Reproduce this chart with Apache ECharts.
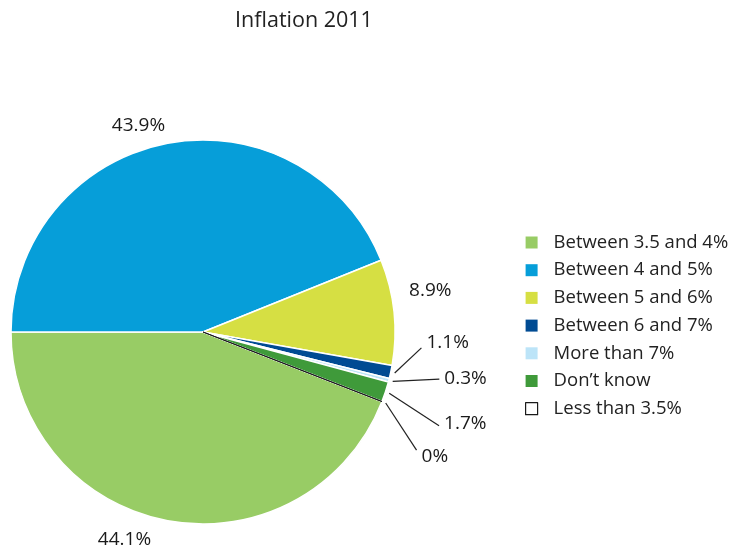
<!DOCTYPE html>
<html>
<head>
<meta charset="utf-8">
<script src="https://cdn.jsdelivr.net/npm/echarts@6/dist/echarts.min.js"></script>
<style>
  html, body { margin: 0; padding: 0; background: #fff; }
  #chart { width: 730px; height: 550px; }
</style>
</head>
<body>
<div id="chart"></div>
<script>
// Survey answers: expected inflation for 2011 (share of respondents, %)
const categories = [
  'Between 3.5 and 4%',
  'Between 4 and 5%',
  'Between 5 and 6%',
  'Between 6 and 7%',
  'More than 7%',
  'Don\u2019t know',
  'Less than 3.5%'
];
const shares = [44.1, 43.9, 8.9, 1.1, 0.3, 1.7, 0];
const colors = ['#98cc65', '#069ed9', '#d6df43', '#004b93', '#bce4f8', '#3f9a3a', '#ffffff'];

// Label placement around the pie: [angle shift from the slice middle in degrees
// (counter-clockwise positive), distance from the centre, extra vertical nudge]
const labelPlace = [
  [-10.1, 222, 0],
  [6.4, 216, 0],
  [4.3, 231, 0],
  [7.9, 219, -5],
  [3.3, 241, -1],
  [-3.5, 254, -2],
  [-7.7, 244, 7]
];

const FONT = '"Open Sans", "Noto Sans", sans-serif';
const CX = 203, CY = 332, R = 192;
const RAD = Math.PI / 180;
const total = shares.reduce((a, b) => a + b, 0);
// first slice ends exactly at 9 o'clock, the rest follow clockwise
const startAngle = 180 + 360 * shares[0] / total;

// middle angle of every slice, same convention as the pie (ccw from 3 o'clock)
const mids = [];
let acc = startAngle;
shares.forEach(v => {
  const span = 360 * v / total;
  mids.push(acc - span / 2);
  acc -= span;
});
function polar(deg, r) {
  return [CX + r * Math.cos(deg * RAD), CY - r * Math.sin(deg * RAD)];
}

const data = categories.map((name, i) => {
  const item = {
    name: name,
    value: shares[i],
    itemStyle: { color: colors[i] },
    labelLine: { show: shares[i] < 2 }
  };
  if (shares[i] === 0) {
    item.itemStyle = { color: '#ffffff', borderColor: '#1a1a1a', borderWidth: 1 };
  }
  return item;
});

const legendData = categories.map((name, i) => shares[i] === 0
  ? { name: name, itemStyle: { color: '#ffffff', borderColor: '#1a1a1a', borderWidth: 1.2 } }
  : { name: name, itemStyle: { borderWidth: 0 } });

const chart = echarts.init(document.getElementById('chart'), null, { renderer: 'canvas' });
chart.setOption({
  backgroundColor: '#ffffff',
  animation: false,
  title: {
    text: 'Inflation 2011',
    left: 299,
    textAlign: 'center',
    top: 5,
    textStyle: { fontFamily: FONT, fontSize: 21.5, fontWeight: 'normal', color: '#222' }
  },
  legend: {
    orient: 'vertical',
    left: 525,
    top: 233,
    padding: 0,
    icon: 'rect',
    itemWidth: 12,
    itemHeight: 12,
    itemGap: 8.7,
    data: legendData,
    textStyle: { fontFamily: FONT, fontSize: 18.5, color: '#222', lineHeight: 16, padding: [0, 0, 0, 11] }
  },
  series: [{
    type: 'pie',
    center: [CX, CY],
    radius: R,
    startAngle: startAngle,
    clockwise: true,
    avoidLabelOverlap: false,
    minShowLabelAngle: 0,
    itemStyle: { borderColor: '#ffffff', borderWidth: 1.5 },
    label: {
      show: true,
      position: 'outside',
      formatter: '{c}%',
      fontFamily: FONT,
      fontSize: 19,
      color: '#1a1a1a'
    },
    labelLine: { length: 20, length2: 0, lineStyle: { color: '#222', width: 1.2 } },
    labelLayout: function (p) {
      const i = p.dataIndex;
      const pl = labelPlace[i];
      const end = polar(mids[i] + pl[0], pl[1]);
      if (shares[i] >= 2) {
        return { x: end[0], y: end[1] + pl[2], align: 'center', verticalAlign: 'middle' };
      }
      const start = polar(mids[i], R + 4);
      return {
        x: end[0] + 5,
        y: end[1] + pl[2],
        align: 'left',
        verticalAlign: 'middle',
        labelLinePoints: [start, end, end]
      };
    },
    emphasis: { disabled: true },
    data: data
  }]
});
</script>
</body>
</html>
